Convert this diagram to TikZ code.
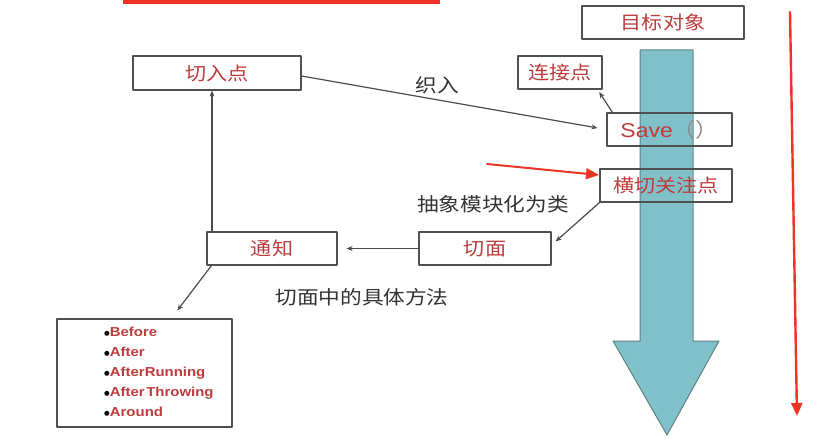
\documentclass[tikz,border=0pt]{standalone}
\usepackage{fontspec}
\newfontfamily\cjk[FakeStretch=1.14]{Noto Sans CJK SC}
\newfontfamily\arialfont[FakeStretch=1.15]{Liberation Sans}
\newfontfamily\symbolfont{DejaVu Sans}
\usetikzlibrary{arrows.meta}
\definecolor{labelred}{RGB}{190,60,60}
\definecolor{boxgray}{RGB}{80,80,80}
\definecolor{tealfill}{RGB}{128,192,200}
\definecolor{tealedge}{RGB}{95,130,135}
\definecolor{markred}{RGB}{238,52,38}
\newcommand\itemdot{\textcolor{black}{\raisebox{0.2ex}{\symbolfont\fontsize{6.5}{7}\selectfont ●}}}
\begin{document}
\begin{tikzpicture}[
	x=1pt, y=-1pt,
	line cap=round,
	line join=round,
	>={Stealth[length=6pt,width=5pt]},
	box/.style={draw=boxgray, line width=1.2pt, minimum height=33pt, inner sep=0pt,
		font=\cjk\fontsize{18.5}{20}\selectfont, text=labelred},
	conn/.style={->, draw=black!70, line width=1.2pt},
	note/.style={font=\cjk\fontsize{19}{21}\selectfont, text=black!80},
	markarrow/.style={draw=markred, -{Triangle[length=13pt,width=11pt]}}
	]
	\useasboundingbox (0,0) rectangle (822,444);
	
	% 顶部红条
	\fill[markred] (123,0) rectangle (440,4);
	
	% 目标对象的大箭头
	\draw[tealedge, fill=tealfill, line width=1pt]
	(640,50) -- (693,50) -- (693,341) -- (719,341) -- (667,435)
	-- (613,341) -- (640,341) -- cycle;
	
	% 方框
	\node[box, minimum width=162pt] (target) at (663,22.5) {目标对象};
	\node[box, minimum width=84pt] (joinpoint) at (560,72.5) {连接点};
	\node[box, minimum width=125pt] (save) at (669.5,129.5)
	{\arialfont\fontsize{20}{22}\selectfont Save\textcolor{black!45}{\cjk （）}};
	\node[box, minimum width=132pt] (concern) at (666,185.5) {横切关注点};
	\node[box, minimum width=168pt, minimum height=34pt] (pointcut) at (217,73) {切入点};
	\node[box, minimum width=130pt] (advice) at (272,248.5) {通知};
	\node[box, minimum width=132pt] (aspect) at (485,248.5) {切面};
	\node[box, minimum width=175pt, minimum height=108pt] (advicelist) at (144.5,373) {};
	
	% 通知的种类
	\node[anchor=west, align=left, inner sep=0pt,
	font=\arialfont\bfseries\fontsize{13}{20}\selectfont, text=labelred]
	(advicetypes) at (104,372)
	{\itemdot Before\\
		\itemdot After\\
		\itemdot AfterRunning\\
		\itemdot After\hspace{0.12em}Throwing\\
		\itemdot Around};
	
	% 连线
	\draw[conn, shorten >=9pt] ([yshift=-3pt]pointcut.east) -- (save.west);
	\draw[conn, shorten >=3pt] ([xshift=6pt]save.north west) -- ([xshift=-5pt]joinpoint.south east);
	\draw[conn] (concern.south west) -- ([xshift=4pt,yshift=7pt]aspect.east);
	\draw[conn, shorten >=9pt] (aspect.west) -- (advice.east);
	\draw[conn] ([xshift=-60pt]advice.north) -- ([xshift=-60pt]advice.north |- pointcut.south);
	\draw[conn] ([xshift=5pt]advice.south west) -- ([xshift=121pt,yshift=8pt]advicelist.north west);
	
	% 说明文字
	\node[note] (weave) at (437,85) {织入};
	\node[note] (abstract) at (493,204) {抽象模块化为类};
	\node[note] (method) at (362,297) {切面中的具体方法};
	
	% 红色标记箭头
	\coordinate (markstart) at (487,164);
	\coordinate (markend) at (599,175);
	\draw[markarrow, line width=2pt] (markstart) -- (markend);
	
	\coordinate (flowtop) at (790,12);
	\coordinate (flowend) at (797,416);
	\draw[markarrow, line width=2.4pt] (flowtop) -- (flowend);
	
\end{tikzpicture}
\end{document}
